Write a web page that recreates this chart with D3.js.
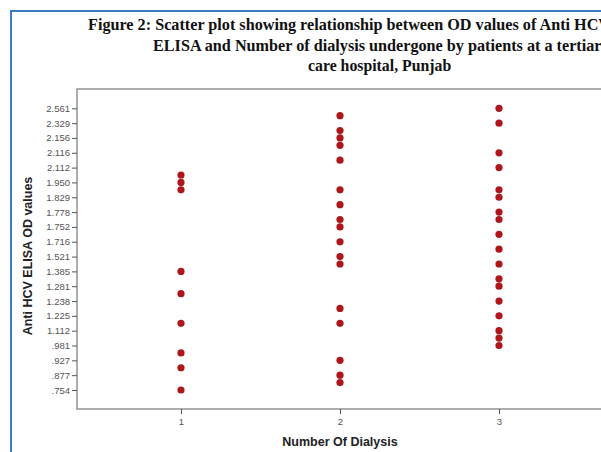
<!DOCTYPE html>
<html><head><meta charset="utf-8">
<script src="https://cdn.jsdelivr.net/npm/d3@7"></script>
<style>body{margin:0;background:#fff;} svg{display:block;}</style>
</head><body>
<svg id="c" width="601" height="452"></svg>
<script>
// Dialysis groups (x) and Anti HCV ELISA OD values (y)
const groups = [1, 2, 3];
const dialysis1 = [2.030, 1.950, 1.890, 1.385, 1.260, 1.170, 0.954, 0.902, 0.754];
const dialysis2 = [2.412, 2.210, 2.156, 2.134, 2.114, 1.890, 1.802, 1.765, 1.752, 1.716, 1.521, 1.450, 1.231, 1.170, 0.927, 0.877, 0.815];
const dialysis3 = [2.561, 2.329, 2.116, 2.112, 1.890, 1.829, 1.778, 1.765, 1.734, 1.620, 1.450, 1.330, 1.281, 1.238, 1.225, 1.112, 1.050, 0.981];
const yTickLabels = [2.561, 2.329, 2.156, 2.116, 2.112, 1.950, 1.829, 1.778, 1.752, 1.716, 1.521, 1.385, 1.281, 1.238, 1.225, 1.112, 0.981, 0.927, 0.877, 0.754];
const titleLines = [
  "Figure 2: Scatter plot showing relationship between OD values of Anti HCV",
  "ELISA and Number of dialysis undergone by patients at a tertiary",
  "care hospital, Punjab"
];

const svg = d3.select("#c");
// outer blue frame
svg.append("rect").attr("x", 11).attr("y", 11).attr("width", 800).attr("height", 700)
  .attr("fill", "none").attr("stroke", "#3b7cc3").attr("stroke-width", 2);

// title
const titleX = [88, 153, 308];
const titleY = [30, 50.5, 71];
svg.append("g").selectAll("text").data(titleLines).join("text")
  .attr("x", (d, i) => titleX[i]).attr("y", (d, i) => titleY[i])
  .attr("text-anchor", "start")
  .attr("font-family", "'Liberation Serif','Times New Roman',serif")
  .attr("font-weight", "bold").attr("font-size", (d, i) => i === 2 ? 15.8 : 16.2).attr("fill", "#111")
  .text(d => d);

const plot = {left: 77, top: 89, right: 603, bottom: 409};
const series = [dialysis1, dialysis2, dialysis3];
const points = series.flatMap((vals, gi) => vals.map(v => ({x: groups[gi], y: v})));
const yDomain = Array.from(new Set(points.map(p => p.y))).sort((a, b) => b - a);

const x = d3.scaleLinear().domain([0.346, 3.654]).range([plot.left, plot.right]);
const y = d3.scalePoint().domain(yDomain).range([108.3, 390]);

// plot frame
svg.append("rect").attr("x", plot.left).attr("y", plot.top)
  .attr("width", plot.right - plot.left).attr("height", plot.bottom - plot.top)
  .attr("fill", "none").attr("stroke", "#8a8a8a").attr("stroke-width", 1.4);

const fmt = v => d3.format(".3f")(v).replace(/^0\./, ".");
const yAxis = d3.axisLeft(y).tickValues(yTickLabels).tickSize(5).tickPadding(2).tickFormat(fmt);
const gy = svg.append("g").attr("transform", `translate(${plot.left},0)`).call(yAxis);
gy.select(".domain").remove();
gy.selectAll("line").attr("stroke", "#555");
gy.selectAll("text").attr("font-family", "'Liberation Sans',Arial,sans-serif")
  .attr("font-size", 9.5).attr("fill", "#555");

const xAxis = d3.axisBottom(x).tickValues(groups).tickSize(5).tickPadding(4).tickFormat(d3.format("d"));
const gx = svg.append("g").attr("transform", `translate(0,${plot.bottom})`).call(xAxis);
gx.select(".domain").remove();
gx.selectAll("line").attr("stroke", "#555");
gx.selectAll("text").attr("font-family", "'Liberation Sans',Arial,sans-serif")
  .attr("font-size", 9.5).attr("fill", "#555");

// points
svg.append("g").selectAll("circle").data(points).join("circle")
  .attr("cx", d => x(d.x)).attr("cy", d => y(d.y)).attr("r", 3.6)
  .attr("fill", "#ad171c");

// axis titles
svg.append("text").attr("x", 340).attr("y", 446).attr("text-anchor", "middle")
  .attr("font-family", "'Liberation Sans',Arial,sans-serif").attr("font-weight", "bold")
  .attr("font-size", 12.5).attr("fill", "#222").text("Number Of Dialysis");
svg.append("text").attr("transform", "translate(32,256) rotate(-90)").attr("text-anchor", "middle")
  .attr("font-family", "'Liberation Sans',Arial,sans-serif").attr("font-weight", "bold")
  .attr("font-size", 12.5).attr("fill", "#222").text("Anti HCV ELISA OD values");
</script>
</body></html>
